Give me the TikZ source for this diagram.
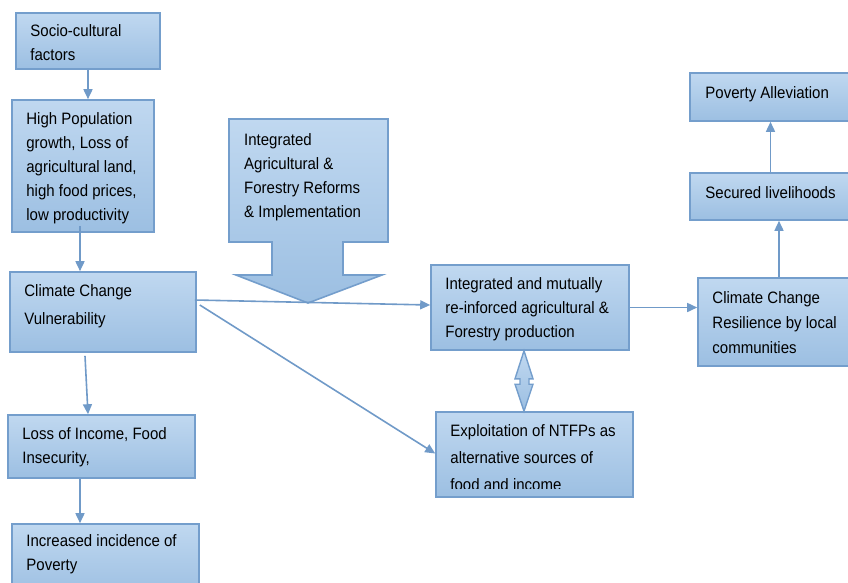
\documentclass[tikz,border=0pt]{standalone}
\usepackage{fontspec}
\newfontfamily\boxfont{Liberation Sans}[FakeStretch=0.91]
\usetikzlibrary{arrows.meta,calc}
\definecolor{boxline}{RGB}{116,158,204}
\definecolor{boxtop}{RGB}{192,216,240}
\definecolor{boxbot}{RGB}{156,191,226}
\definecolor{linkcol}{RGB}{112,154,200}
\tikzset{
	flowbox/.style={draw=boxline, line width=1.6pt, top color=boxtop, bottom color=boxbot, inner sep=0pt},
	boxtext/.style={anchor=north west, align=left, inner sep=0pt, font=\boxfont\fontsize{16.5}{24}\selectfont},
	link/.style={draw=linkcol, line width=1.6pt, -{Triangle[length=10pt,width=9pt]}}
}
\begin{document}
\begin{tikzpicture}[x=1pt,y=-1pt]
		%%%%% START %%%%%
		\useasboundingbox (0,0) rectangle (848,582);
		\clip (0,0) rectangle (848,582);
		
		% left column
		\node[flowbox, minimum width=144pt, minimum height=56pt] (soc) at (88,41) {};
		\node[flowbox, minimum width=142pt, minimum height=132pt] (pop) at (83,166) {};
		\node[flowbox, minimum width=186pt, minimum height=80pt] (vul) at (103,312) {};
		\node[flowbox, minimum width=187pt, minimum height=63pt] (inc) at (101.5,446.5) {};
		\node[flowbox, minimum width=187pt, minimum height=72pt] (pov) at (105.5,560) {};
		
		\node[boxtext] (soctxt) at ([xshift=15pt,yshift=-12pt]soc.north west) {Socio-cultural\\factors};
		\node[boxtext] (poptxt) at ([xshift=15pt,yshift=-13pt]pop.north west) {High Population\\growth, Loss of\\agricultural land,\\high food prices,\\low productivity};
		\node[boxtext] (vultxt) at ([xshift=15pt,yshift=-13pt]vul.north west) {Climate Change\\[4pt]Vulnerability};
		\node[boxtext] (inctxt) at ([xshift=15pt,yshift=-13pt]inc.north west) {Loss of Income, Food\\Insecurity,};
		\node[boxtext] (povtxt) at ([xshift=15pt,yshift=-11pt]pov.north west) {Increased incidence of\\Poverty};
		
		% reform arrow
		\draw[draw=boxline, line width=1.6pt, top color=boxtop, bottom color=boxbot] (229,119) -- (388,119) -- (388,242) -- (343,242) -- (343,275) -- (382,275) -- (308,303) -- (236,275) -- (272,275) -- (272,242) -- (229,242) -- cycle;
		\node[boxtext] (reform) at (244,133) {Integrated\\Agricultural \&\\Forestry Reforms\\\& Implementation};
		
		% middle
		\node[flowbox, minimum width=198pt, minimum height=85pt] (agr) at (530,307.5) {};
		\node[flowbox, minimum width=197pt, minimum height=85pt] (ntfp) at (534.5,454.5) {};
		\node[boxtext] (agrtxt) at ([xshift=15pt,yshift=-13pt]agr.north west) {Integrated and mutually\\re-inforced agricultural \&\\Forestry production};
		\begin{scope}
			\clip (ntfp.north west) rectangle ([yshift=9pt]ntfp.south east);
			\node[boxtext, font=\boxfont\fontsize{16.5}{27}\selectfont] (ntfptxt) at ([xshift=15pt,yshift=-13pt]ntfp.north west) {Exploitation of NTFPs as\\alternative sources of\\food and income};
		\end{scope}
		
		% right column
		\node[flowbox, minimum width=165pt, minimum height=48pt] (all) at (772.5,97) {};
		\node[flowbox, minimum width=165pt, minimum height=47pt] (sec) at (772.5,196.5) {};
		\node[flowbox, minimum width=160pt, minimum height=88pt] (res) at (778,322) {};
		\node[boxtext] (alltxt) at ([xshift=16pt,yshift=-14pt]all.north west) {Poverty Alleviation};
		\node[boxtext] (sectxt) at ([xshift=16pt,yshift=-14pt]sec.north west) {Secured livelihoods};
		\node[boxtext, font=\boxfont\fontsize{16.5}{25}\selectfont] (restxt) at ([xshift=15pt,yshift=-14pt]res.north west) {Climate Change\\Resilience by local\\communities};
		
		% links
		\draw[link] (soc.south) -- (soc.south |- pop.north);
		\coordinate (popout) at ([xshift=-3pt,yshift=7pt]pop.south);
		\draw[link] (popout) -- (popout |- vul.north);
		\draw[link] ([xshift=-18pt,yshift=-3pt]vul.south) -- ([xshift=-13.5pt]inc.north);
		\coordinate (incout) at ([xshift=-21.5pt]inc.south);
		\draw[link] (incout) -- (incout |- pov.north);
		\draw[link] ([xshift=-2pt,yshift=12pt]vul.east) -- ([yshift=2.5pt]agr.west);
		\draw[link] ([xshift=3pt,yshift=7pt]vul.east) -- ([yshift=1pt]ntfp.west);
		\draw[link] (agr.east) -- (agr.east -| res.west);
		\draw[link] ([xshift=1pt]res.north) -- ([xshift=1pt]res.north |- sec.south);
		\coordinate (secout) at ([xshift=-2pt]sec.north);
		\draw[link] (secout) -- (secout |- all.south);
		
		% double arrow
		\coordinate (dtop) at ([xshift=-6pt]agr.south);
		\coordinate (dbot) at (dtop |- ntfp.north);
		\draw[draw=boxline, line width=1.4pt, top color=boxtop, bottom color=boxbot] (dtop) -- ($(dtop)+(9,28)$) -- ($(dtop)+(5,28)$) -- ($(dbot)+(5,-27)$) -- ($(dbot)+(9,-27)$) -- (dbot) -- ($(dbot)+(-9,-27)$) -- ($(dbot)+(-4,-27)$) -- ($(dtop)+(-4,28)$) -- ($(dtop)+(-9,28)$) -- cycle;
		
		%%%%% END %%%%%
	\end{tikzpicture}
\end{document}
